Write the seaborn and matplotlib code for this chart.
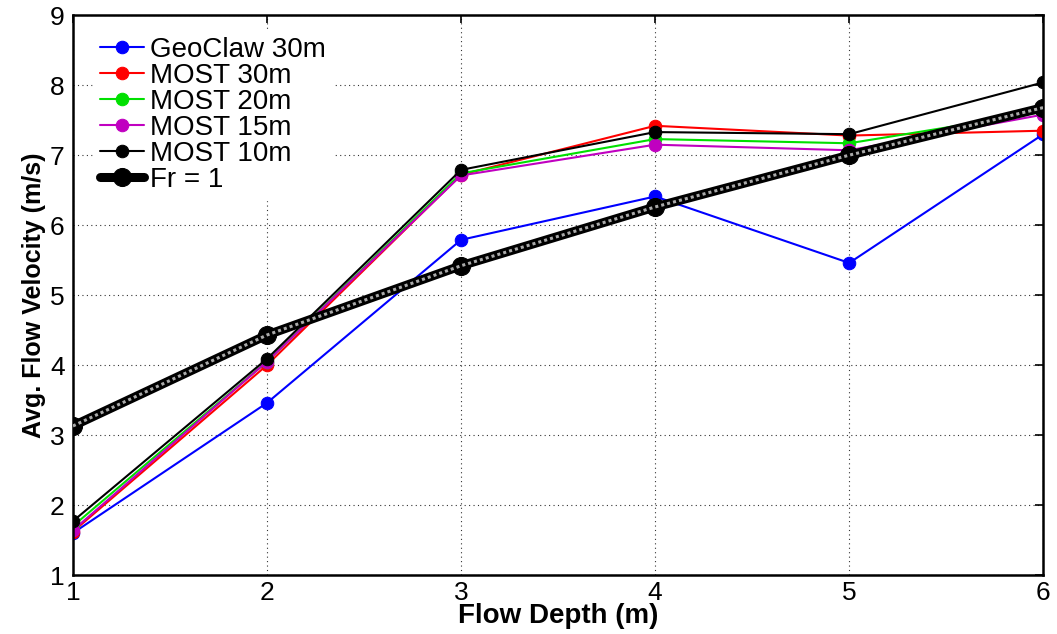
import matplotlib
matplotlib.use("Agg")
import matplotlib.pyplot as plt
import seaborn as sns
import pandas as pd

depth = [1, 2, 3, 4, 5, 6]
geoclaw_30m = [1.60, 3.46, 5.79, 6.41, 5.46, 7.30]
most_30m = [1.62, 4.00, 6.72, 7.42, 7.28, 7.35]
most_20m = [1.70, 4.05, 6.74, 7.23, 7.17, 7.62]
most_15m = [1.64, 4.05, 6.71, 7.15, 7.07, 7.58]
most_10m = [1.77, 4.09, 6.79, 7.33, 7.30, 8.04]
froude_1 = [3.13, 4.43, 5.42, 6.26, 7.00, 7.68]

labels = ["GeoClaw 30m", "MOST 30m", "MOST 20m", "MOST 15m", "MOST 10m"]
series = [geoclaw_30m, most_30m, most_20m, most_15m, most_10m]
colors = ["#0000ff", "#ff0000", "#00e000", "#c000c0", "#000000"]

sns.set_theme(style="white")
plt.rcParams['font.family'] = ['Liberation Sans', 'DejaVu Sans']
plt.rcParams['text.color'] = 'black'
plt.rcParams['axes.labelcolor'] = 'black'

fig = plt.figure(figsize=(10.57, 6.34), dpi=100)
ax = fig.add_axes([0.069, 0.093, 0.918, 0.883])

for lab, vals, c in zip(labels, series, colors):
    df = pd.DataFrame({"x": depth, "y": vals})
    sns.lineplot(data=df, x="x", y="y", ax=ax, color=c, lw=1.5,
                 marker="o", markersize=9, markeredgecolor=c, label=lab)

df_fr = pd.DataFrame({"x": depth, "y": froude_1})
sns.lineplot(data=df_fr, x="x", y="y", ax=ax, color="black", lw=6.5,
             marker="o", markersize=13, markeredgecolor="black", label="Fr = 1", zorder=3)
ax.plot(depth, froude_1, color="#aaaaaa", lw=2.2, ls=(0, (1, 1)), zorder=3.5)

ax.set_xlim(1, 6)
ax.set_ylim(1, 9)
ax.set_xticks(depth)
ax.set_yticks(range(1, 10))
ax.tick_params(axis="both", direction="in", length=6, width=1.2, labelsize=19,
               colors="black", top=True, right=True)
ax.tick_params(axis="x", pad=4)
ax.tick_params(axis="y", pad=6)
for s in ax.spines.values():
    s.set_color("black")
    s.set_linewidth(1.8)
ax.grid(True, color="black", ls=(0, (1, 3)), lw=0.8, alpha=0.8)
ax.set_axisbelow(True)

ax.set_xlabel("Flow Depth (m)", fontsize=20, fontweight="bold", labelpad=-1, color="black")
ax.set_ylabel("Avg. Flow Velocity (m/s)", fontsize=18, fontweight="bold", labelpad=3, color="black")

leg = ax.legend(loc="upper left", fontsize=20, frameon=True, handlelength=1.6,
                borderpad=0.25, labelspacing=0.0, handletextpad=0.2,
                bbox_to_anchor=(0.006, 0.998), fancybox=False)
leg.get_frame().set_edgecolor("white")
leg.get_frame().set_facecolor("white")
leg.get_frame().set_alpha(1)
for t in leg.get_texts():
    t.set_color("black")

fig.savefig("out.png", dpi=100)
